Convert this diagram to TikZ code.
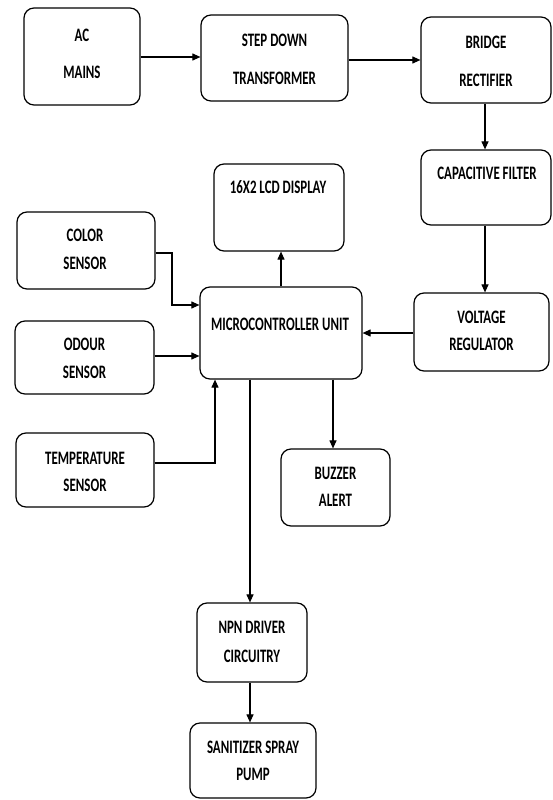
\documentclass[tikz,border=0pt]{standalone}
\usepackage{fontspec}
\setmainfont{Carlito}[FakeStretch=0.68]
\usetikzlibrary{arrows.meta}
\begin{document}
\begin{tikzpicture}[x=1pt,y=-1pt,
  box/.style={draw, line width=1.2pt, rounded corners=10pt, inner sep=0pt},
  lbl/.style={font=\fontsize{19}{19}\selectfont\bfseries, inner sep=0pt, anchor=center},
  arr/.style={line width=1.1pt, -{Triangle[length=8pt,width=7pt]}},
  ln/.style={line width=1.1pt}]
\useasboundingbox (0,0) rectangle (552,800);
\fill[white] (0,0) rectangle (552,800);
% boxes
\node[box, minimum width=116pt, minimum height=97pt] (ac) at (82,56.5) {};
\node[box, minimum width=147pt, minimum height=86pt] (step) at (274.5,58) {};
\node[box, minimum width=130pt, minimum height=86pt] (bridge) at (486,60) {};
\node[box, minimum width=130pt, minimum height=75pt] (cap) at (486,187.5) {};
\node[box, minimum width=130pt, minimum height=87pt] (lcd) at (279,207.5) {};
\node[box, minimum width=138pt, minimum height=77pt] (color) at (86,250.5) {};
\node[box, minimum width=162pt, minimum height=92pt] (mcu) at (281,333) {};
\node[box, minimum width=135pt, minimum height=78pt] (vr) at (481.5,332) {};
\node[box, minimum width=139pt, minimum height=73pt] (odour) at (84.5,357.5) {};
\node[box, minimum width=138pt, minimum height=74pt] (temp) at (85,470) {};
\node[box, minimum width=109pt, minimum height=77pt] (buzz) at (335.5,487.5) {};
\node[box, minimum width=110pt, minimum height=79pt] (npn) at (252,642.5) {};
\node[box, minimum width=126pt, minimum height=75pt] (san) at (253,760.5) {};
% labels
\node[lbl] (t1) at (82,35) {AC};
\node[lbl] (t2) at (82,72) {MAINS};
\node[lbl] (t3) at (274.5,40) {STEP DOWN};
\node[lbl] (t4) at (274.5,78) {TRANSFORMER};
\node[lbl] (t5) at (486,42) {BRIDGE};
\node[lbl] (t6) at (486,80) {RECTIFIER};
\node[lbl] (t7) at (487,173) {CAPACITIVE FILTER};
\node[lbl] (t8) at (278,187) {16X2 LCD DISPLAY};
\node[lbl] (t9) at (85,235) {COLOR};
\node[lbl] (t10) at (85,263) {SENSOR};
\node[lbl] (t11) at (280,324) {MICROCONTROLLER UNIT};
\node[lbl] (t12) at (481.5,317) {VOLTAGE};
\node[lbl] (t13) at (481.5,344) {REGULATOR};
\node[lbl] (t14) at (84.5,344) {ODOUR};
\node[lbl] (t15) at (84.5,372) {SENSOR};
\node[lbl] (t16) at (85,458) {TEMPERATURE};
\node[lbl] (t17) at (85,485) {SENSOR};
\node[lbl] (t18) at (335.5,473) {BUZZER};
\node[lbl] (t19) at (335.5,500) {ALERT};
\node[lbl] (t20) at (252,627) {NPN DRIVER};
\node[lbl] (t21) at (252,656) {CIRCUITRY};
\node[lbl] (t22) at (253,747) {SANITIZER SPRAY};
\node[lbl] (t23) at (253,774) {PUMP};
% connectors
\coordinate (c1) at (172,253);
\coordinate (c2) at (172,305);
\coordinate (c3) at (215,463);
\draw[arr] (ac.east |- 0,57) -- (step.west |- 0,57);
\draw[arr] (step.east |- 0,60) -- (bridge.west |- 0,60);
\draw[arr] (bridge.south -| 485,0) -- (cap.north -| 485,0);
\draw[arr] (cap.south -| 485,0) -- (vr.north -| 485,0);
\draw[arr] (vr.west |- 0,333) -- (mcu.east |- 0,333);
\draw[arr] (mcu.north -| 281,0) -- (lcd.south -| 281,0);
\draw[arr] (color.east |- c1) -- (c1) -- (c2) -- (mcu.west |- c2);
\draw[arr] (odour.east |- 0,356) -- (mcu.west |- 0,356);
\draw[arr] (temp.east |- c3) -- (c3) -- (mcu.south -| c3);
\draw[arr] (mcu.south -| 333,0) -- (buzz.north -| 333,0);
\draw[arr] (mcu.south -| 250,0) -- (npn.north -| 250,0);
\draw[arr] (npn.south -| 250,0) -- (san.north -| 250,0);
\end{tikzpicture}
\end{document}
